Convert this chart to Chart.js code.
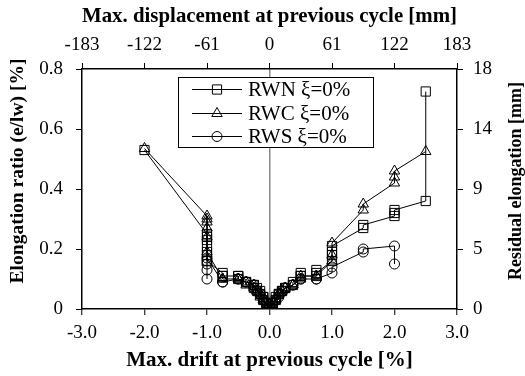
<!DOCTYPE html>
<html>
<head>
<meta charset="utf-8">
<script src="https://cdn.jsdelivr.net/npm/chart.js@4.4.0/dist/chart.umd.min.js"></script>
<style>
    html, body { margin: 0; padding: 0; background: #fff; }
    #wrap { width: 525px; height: 376px; }
</style>
</head>
<body>
<div id="wrap"><canvas id="elongChart" width="525" height="376"></canvas></div>
<script>
// max drift at previous cycle [%] vs elongation ratio e/lw [%], repeated cycles per drift level
const rwnDrift = [-2.0, -1.0, -1.0, -1.0, -1.0, -1.0, -1.0, -1.0, -0.75, -0.75, -0.75, -0.5, -0.5, -0.5, -0.375, -0.375, -0.25, -0.25, -0.25, -0.2, -0.2, -0.15, -0.15, -0.1, -0.1, -0.1, -0.05, -0.05, 0, 0, 0.05, 0.05, 0.1, 0.1, 0.15, 0.15, 0.2, 0.2, 0.25, 0.25, 0.375, 0.375, 0.5, 0.5, 0.5, 0.75, 0.75, 0.75, 1.0, 1.0, 1.0, 1.0, 1.5, 1.5, 2.0, 2.0, 2.0, 2.5, 2.5];
const rwnRatio = [0.53, 0.25, 0.24, 0.23, 0.21, 0.19, 0.18, 0.16, 0.12, 0.11, 0.11, 0.11, 0.11, 0.10, 0.09, 0.09, 0.08, 0.08, 0.07, 0.07, 0.06, 0.06, 0.05, 0.04, 0.04, 0.03, 0.02, 0.02, 0.01, 0.0, 0.02, 0.02, 0.03, 0.04, 0.05, 0.05, 0.06, 0.06, 0.07, 0.07, 0.08, 0.09, 0.11, 0.12, 0.11, 0.11, 0.13, 0.12, 0.16, 0.18, 0.19, 0.21, 0.27, 0.28, 0.31, 0.32, 0.33, 0.36, 0.725];

const rwcDrift = [-2.0, -1.0, -1.0, -1.0, -1.0, -1.0, -1.0, -0.75, -0.75, -0.5, -0.5, -0.375, -0.375, -0.25, -0.25, -0.2, -0.2, -0.15, -0.15, -0.1, -0.1, -0.05, -0.05, 0, 0, 0.05, 0.05, 0.1, 0.1, 0.15, 0.15, 0.2, 0.2, 0.25, 0.25, 0.375, 0.375, 0.5, 0.5, 0.75, 0.75, 1.0, 1.0, 1.0, 1.5, 1.5, 2.0, 2.0, 2.0, 2.5];
const rwcRatio = [0.535, 0.31, 0.30, 0.29, 0.27, 0.24, 0.19, 0.10, 0.10, 0.10, 0.10, 0.09, 0.08, 0.08, 0.07, 0.06, 0.06, 0.05, 0.04, 0.03, 0.03, 0.02, 0.01, 0.0, 0.0, 0.01, 0.02, 0.03, 0.03, 0.05, 0.05, 0.06, 0.06, 0.07, 0.07, 0.08, 0.08, 0.10, 0.11, 0.11, 0.11, 0.16, 0.18, 0.22, 0.33, 0.35, 0.42, 0.44, 0.46, 0.525];

const rwsDrift = [-1.0, -1.0, -1.0, -1.0, -1.0, -0.75, -0.75, -0.5, -0.5, -0.375, -0.375, -0.25, -0.25, -0.2, -0.2, -0.15, -0.15, -0.1, -0.1, -0.05, -0.05, 0, 0, 0.05, 0.05, 0.1, 0.1, 0.15, 0.15, 0.2, 0.2, 0.25, 0.25, 0.375, 0.375, 0.5, 0.5, 0.75, 0.75, 1.0, 1.0, 1.5, 1.5, 2.0, 2.0];
const rwsRatio = [0.10, 0.13, 0.15, 0.16, 0.17, 0.09, 0.09, 0.10, 0.10, 0.09, 0.09, 0.08, 0.07, 0.06, 0.06, 0.05, 0.05, 0.03, 0.03, 0.02, 0.02, 0.01, 0.0, 0.01, 0.02, 0.03, 0.03, 0.04, 0.05, 0.06, 0.06, 0.07, 0.07, 0.08, 0.08, 0.10, 0.10, 0.10, 0.10, 0.12, 0.14, 0.19, 0.20, 0.21, 0.15];

const seriesNames = ['RWN ξ=0%', 'RWC ξ=0%', 'RWS ξ=0%'];
const leftTickLabels = ['0', '0.2', '0.4', '0.6', '0.8'];
const rightTickLabels = ['0', '5', '9', '14', '18'];
const topTickLabels = ['-183', '-122', '-61', '0', '61', '122', '183'];
const leftTitle = 'Elongation ratio (e/lw) [%]';
const rightTitle = 'Residual elongation [mm]';

const SERIF = "'Liberation Serif', 'Times New Roman', serif";
Chart.defaults.font.family = SERIF;
Chart.defaults.font.size = 19;
Chart.defaults.color = '#000';

const toPoints = (xs, ys) => xs.map((x, i) => ({ x: x, y: ys[i] }));

function makeSeries(label, xs, ys, style, radius) {
    return {
        label: label,
        data: toPoints(xs, ys),
        showLine: true,
        borderColor: '#000',
        borderWidth: 1,
        pointStyle: style,
        pointRadius: radius,
        pointBorderColor: '#000',
        pointBorderWidth: 1,
        pointBackgroundColor: 'rgba(0,0,0,0)'
    };
}

// framed legend with the line running through each marker
const boxLegend = {
    id: 'boxLegend',
    afterDatasetsDraw(chart) {
        const { ctx, chartArea } = chart;
        const x0 = chartArea.left + 96, y0 = chartArea.top + 8;
        const w = 195, h = 70, row = 23.5;
        ctx.save();
        ctx.fillStyle = '#fff';
        ctx.fillRect(x0, y0, w, h);
        ctx.strokeStyle = '#000';
        ctx.lineWidth = 1;
        ctx.strokeRect(x0 + 0.5, y0 + 0.5, w, h);
        chart.data.datasets.forEach((ds, i) => {
            const y = Math.round(y0 + 12 + i * row) + 0.5;
            ctx.strokeStyle = '#000';
            ctx.lineWidth = 1;
            ctx.beginPath();
            ctx.moveTo(x0 + 14, y);
            ctx.lineTo(x0 + 64, y);
            ctx.stroke();
            ctx.fillStyle = 'rgba(0,0,0,0)';
            Chart.helpers.drawPoint(ctx, {
                pointStyle: ds.pointStyle, radius: ds.pointRadius, borderWidth: 1, rotation: 0
            }, x0 + 39, y);
            ctx.fillStyle = '#000';
            ctx.font = '21px ' + SERIF;
            ctx.textBaseline = 'middle';
            ctx.textAlign = 'left';
            ctx.fillText(ds.label, x0 + 70, y + 1);
        });
        ctx.restore();
    }
};

// both side titles read bottom to top
function sideTitle(ctx, text, x, y, size) {
    ctx.save();
    ctx.translate(x, y);
    ctx.rotate(-Math.PI / 2);
    ctx.font = 'bold ' + size + 'px ' + SERIF;
    ctx.fillStyle = '#000';
    ctx.textAlign = 'center';
    ctx.textBaseline = 'middle';
    ctx.fillText(text, 0, 0);
    ctx.restore();
}

const axisTitles = {
    id: 'axisTitles',
    afterDraw(chart) {
        const { ctx, chartArea } = chart;
        const mid = (chartArea.top + chartArea.bottom) / 2;
        sideTitle(ctx, leftTitle, 17.5, mid - 18, 19.5);
        sideTitle(ctx, rightTitle, chart.width - 9, mid - 8, 18);
    }
};

const tickGrid = {
    color: 'rgba(0,0,0,0)',
    drawTicks: true,
    tickColor: '#000',
    tickLength: 6,
    tickWidth: 1
};
const frame = { display: true, color: '#000', width: 1.5 };

new Chart(document.getElementById('elongChart'), {
    type: 'scatter',
    data: {
        datasets: [
            makeSeries(seriesNames[0], rwnDrift, rwnRatio, 'rect', 6.5),
            makeSeries(seriesNames[1], rwcDrift, rwcRatio, 'triangle', 6),
            makeSeries(seriesNames[2], rwsDrift, rwsRatio, 'circle', 5)
        ]
    },
    options: {
        responsive: false,
        animation: false,
        layout: { padding: 0 },
        plugins: { legend: { display: false }, tooltip: { enabled: false } },
        scales: {
            x: {
                type: 'linear', position: 'bottom', min: -3, max: 3,
                afterFit: s => { s.height = 67; },
                border: frame,
                grid: Object.assign({}, tickGrid, {
                    color: c => (c.tick && c.tick.value === 0) ? '#8a8a8a' : 'rgba(0,0,0,0)',
                    lineWidth: 1.5
                }),
                ticks: { stepSize: 1, padding: 7, maxRotation: 0, autoSkip: false, callback: v => v.toFixed(1) },
                title: {
                    display: true, text: 'Max. drift at previous cycle [%]',
                    font: { weight: 'bold', size: 21, lineHeight: 1 }, padding: { bottom: 4.5, top: 0 }
                }
            },
            x2: {
                type: 'linear', position: 'top', min: -3, max: 3,
                afterFit: s => { s.height = 69; },
                border: frame,
                grid: tickGrid,
                ticks: { stepSize: 1, padding: 7, maxRotation: 0, autoSkip: false, callback: (v, i) => topTickLabels[i] },
                title: {
                    display: true, text: 'Max. displacement at previous cycle [mm]',
                    font: { weight: 'bold', size: 21, lineHeight: 1 }, padding: { top: 6, bottom: 0 }
                }
            },
            y: {
                type: 'linear', position: 'left', min: 0, max: 0.8,
                afterFit: s => { s.width = 82; },
                border: frame,
                grid: tickGrid,
                ticks: { stepSize: 0.2, padding: 13, callback: (v, i) => leftTickLabels[i] },
                title: { display: false }
            },
            y2: {
                type: 'linear', position: 'right', min: 0, max: 0.8,
                afterFit: s => { s.width = 68; },
                border: frame,
                grid: tickGrid,
                ticks: { stepSize: 0.2, padding: 10, callback: (v, i) => rightTickLabels[i] },
                title: { display: false }
            }
        }
    },
    plugins: [boxLegend, axisTitles]
});
</script>
</body>
</html>
